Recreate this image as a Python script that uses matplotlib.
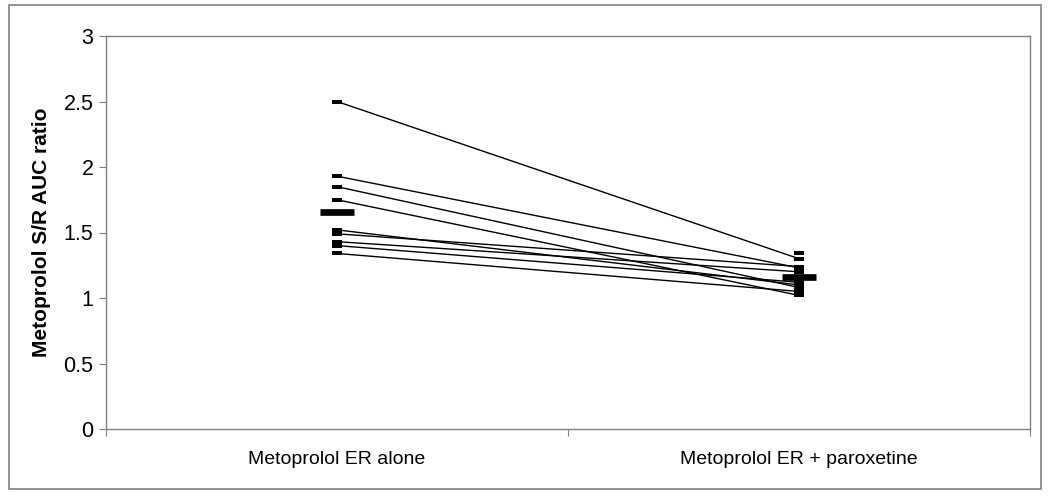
import numpy as np
import matplotlib
matplotlib.use("Agg")
from matplotlib import pyplot as plt
from matplotlib.patches import Rectangle

plt.rcParams['font.family'] = ['Liberation Sans', 'DejaVu Sans']

# data
categories = ["Metoprolol ER alone", "Metoprolol ER + paroxetine"]
alone = [2.50, 1.93, 1.85, 1.75, 1.52, 1.49, 1.43, 1.40, 1.34]
with_parox = [1.30, 1.23, 1.08, 1.02, 1.10, 1.24, 1.20, 1.12, 1.05]
extra_parox = [1.34]          # marker on the right with no partner line
mean_alone = 1.66
mean_parox = 1.16

fig = plt.figure(figsize=(10.5, 4.99), dpi=100)
ax = fig.add_axes([106/1050, 1 - 429/499, (1030-106)/1050, (429-36)/499])

xpos = [0.5, 1.5]
grey = "#808080"

# individual subject lines
for a, p in zip(alone, with_parox):
    ax.plot(xpos, [a, p], color="black", lw=1.0, zorder=2)

# subject markers
ax.plot([xpos[0]]*len(alone), alone, ls="none", marker="_", ms=7.5, mew=2.9,
        color="black", zorder=3)
ax.plot([xpos[1]]*(len(with_parox)+len(extra_parox)), with_parox + extra_parox,
        ls="none", marker="_", ms=7.5, mew=2.9, color="black", zorder=3)

# means
ax.plot(xpos, [mean_alone, mean_parox], ls="none", marker="_", ms=25, mew=4.8,
        color="black", zorder=4)

ax.set_xlim(0, 2)
ax.set_ylim(0, 3)
ax.set_yticks(np.arange(0, 3.01, 0.5))
ax.set_yticklabels(["0", "0.5", "1", "1.5", "2", "2.5", "3"])
ax.set_xticks([0, 1, 2])
ax.set_xticklabels([])
ax.set_xticks(xpos, minor=True)
ax.set_xticklabels(categories, minor=True, fontsize=14)
ax.tick_params(axis="x", which="minor", length=0, pad=16)
ax.tick_params(axis="x", which="major", length=5, color=grey, direction="out")
ax.tick_params(axis="y", length=5, color=grey, labelsize=15.5, pad=4)

for s in ax.spines.values():
    s.set_color(grey)
    s.set_linewidth(1.0)

ax.set_ylabel("Metoprolol S/R AUC ratio", fontsize=15, fontweight="bold", labelpad=9)

# outer chart border
fig.patches.append(Rectangle((9/1050, 1 - 489/499), (1041-9)/1050, (489-5)/499,
                             transform=fig.transFigure, fill=False,
                             edgecolor=grey, lw=1.2))

fig.savefig("out.png", dpi=100)
